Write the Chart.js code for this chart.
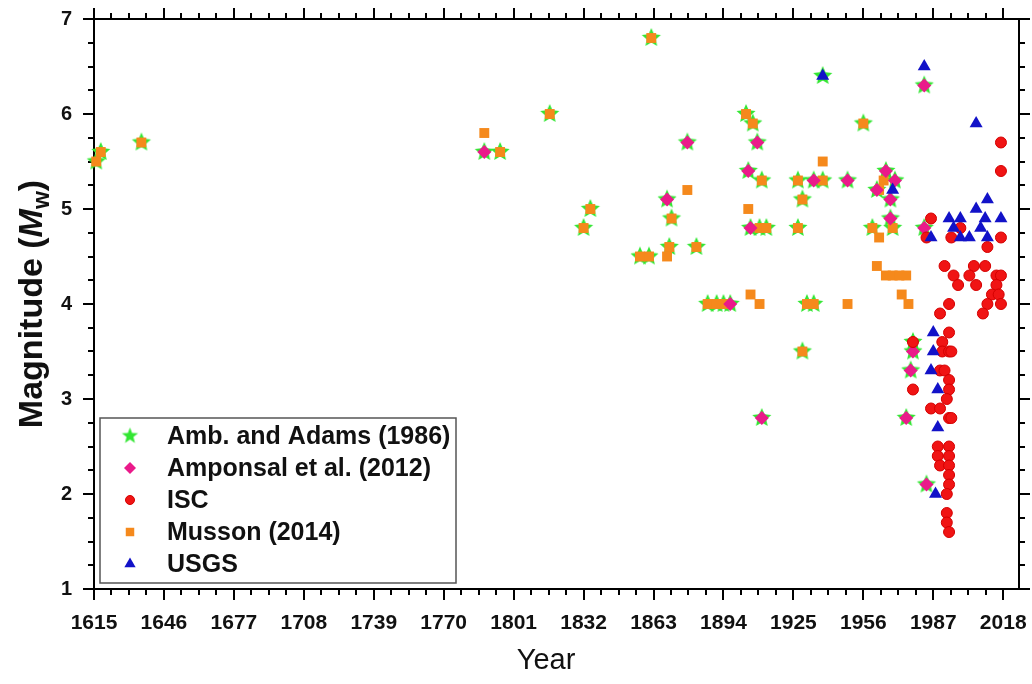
<!DOCTYPE html>
<html>
<head>
<meta charset="utf-8">
<script src="https://cdn.jsdelivr.net/npm/chart.js@4.4.1/dist/chart.umd.min.js"></script>
<style>
  html, body { margin: 0; padding: 0; background: #fff; }
  #wrap { width: 1032px; height: 684px; position: relative; }
</style>
</head>
<body>
<div id="wrap"><canvas id="place__graph1"></canvas></div>
<script>
// tick labels
const yearTicks = [1615, 1646, 1677, 1708, 1739, 1770, 1801, 1832, 1863, 1894, 1925, 1956, 1987, 2018];
const magTicks = [1, 2, 3, 4, 5, 6, 7];

// [year, Mw] per catalogue
const ambAdams = [
  [1616, 5.5], [1618, 5.6], [1636, 5.7], [1795, 5.6], [1817, 6.0], [1862, 6.8], [1832, 4.8], [1835, 5.0],
  [1857, 4.5], [1861, 4.5], [1870, 4.6], [1882, 4.6], [1871, 4.9], [1887, 4.0], [1891, 4.0], [1894, 4.0],
  [1931, 4.0], [1934, 4.0], [1910, 4.8], [1913, 4.8], [1927, 4.8], [1960, 4.8], [1969, 4.8], [1929, 5.1],
  [1904, 6.0], [1907, 5.9], [1956, 5.9], [1911, 5.3], [1927, 5.3], [1938, 5.3], [1929, 3.5],
  [1788, 5.6], [1869, 5.1], [1878, 5.7], [1897, 4.0], [1906, 4.8], [1983, 4.8], [1968, 5.1], [1968, 4.9],
  [1909, 5.7], [1905, 5.4], [1934, 5.3], [1949, 5.3], [1966, 5.4], [1962, 5.2], [1970, 5.3], [1983, 6.3],
  [1911, 2.8], [1975, 2.8], [1978, 3.5], [1977, 3.3], [1984, 2.1], [1938, 6.4], [1978, 3.6]
];
const amponsal = [
  [1788, 5.6], [1869, 5.1], [1878, 5.7], [1897, 4.0], [1906, 4.8], [1983, 4.8], [1968, 5.1], [1968, 4.9],
  [1909, 5.7], [1905, 5.4], [1934, 5.3], [1949, 5.3], [1966, 5.4], [1962, 5.2], [1970, 5.3], [1983, 6.3],
  [1911, 2.8], [1975, 2.8], [1978, 3.5], [1977, 3.3], [1984, 2.1]
];
const isc = [
  [2017, 5.7], [2017, 5.4], [1986, 4.9], [1984, 4.7], [1995, 4.7], [1999, 4.8], [2017, 4.7], [2011, 4.6],
  [1992, 4.4], [2005, 4.4], [2010, 4.4], [1996, 4.3], [2003, 4.3], [2015, 4.3], [2017, 4.3], [1998, 4.2],
  [2006, 4.2], [2015, 4.2], [2013, 4.1], [2016, 4.1], [1994, 4.0], [2011, 4.0], [2017, 4.0], [1990, 3.9],
  [2009, 3.9], [1994, 3.7], [1978, 3.6], [1991, 3.6], [1991, 3.5], [1994, 3.5], [1995, 3.5], [1990, 3.3],
  [1992, 3.3], [1994, 3.2], [1994, 3.1], [1978, 3.1], [1993, 3.0], [1986, 2.9], [1990, 2.9], [1994, 2.8],
  [1995, 2.8], [1989, 2.5], [1994, 2.5], [1989, 2.4], [1994, 2.4], [1990, 2.3], [1994, 2.3], [1994, 2.2],
  [1994, 2.1], [1993, 2.0], [1993, 1.8], [1993, 1.7], [1994, 1.6]
];
const musson = [
  [1616, 5.5], [1618, 5.6], [1636, 5.7], [1795, 5.6], [1817, 6.0], [1862, 6.8], [1832, 4.8], [1835, 5.0],
  [1857, 4.5], [1861, 4.5], [1870, 4.6], [1882, 4.6], [1871, 4.9], [1887, 4.0], [1891, 4.0], [1894, 4.0],
  [1931, 4.0], [1934, 4.0], [1910, 4.8], [1913, 4.8], [1927, 4.8], [1960, 4.8], [1969, 4.8], [1929, 5.1],
  [1904, 6.0], [1907, 5.9], [1956, 5.9], [1911, 5.3], [1927, 5.3], [1938, 5.3], [1929, 3.5],
  [1788, 5.8], [1878, 5.2], [1869, 4.5], [1905, 5.0], [1906, 4.1], [1910, 4.0], [1938, 5.5], [1949, 4.0],
  [1963, 4.7], [1962, 4.4], [1966, 4.3], [1969, 4.3], [1972, 4.3], [1975, 4.3], [1973, 4.1], [1976, 4.0],
  [1963, 5.2], [1965, 5.3]
];
const usgs = [
  [1938, 6.4], [1983, 6.5], [2006, 5.9], [1969, 5.2], [2011, 5.1], [2006, 5.0], [1994, 4.9], [1999, 4.9],
  [2010, 4.9], [2017, 4.9], [1996, 4.8], [2008, 4.8], [1986, 4.7], [1999, 4.7], [2003, 4.7], [2011, 4.7],
  [1987, 3.7], [1987, 3.5], [1986, 3.3], [1989, 3.1], [1989, 2.7], [1988, 2.0]
];

const FONT = "'Liberation Sans', Arial, sans-serif";

function makeStar(color, rOut, rIn) {
  const size = Math.ceil(rOut * 2 + 2);
  const c = document.createElement('canvas');
  c.width = size; c.height = size;
  const g = c.getContext('2d');
  g.beginPath();
  for (let i = 0; i < 10; i++) {
    const r = i % 2 ? rIn : rOut;
    const a = -Math.PI / 2 + i * Math.PI / 5;
    const px = size / 2 + r * Math.cos(a), py = size / 2 + r * Math.sin(a);
    if (i) g.lineTo(px, py); else g.moveTo(px, py);
  }
  g.closePath();
  g.fillStyle = color;
  g.fill();
  return c;
}
const starImg = makeStar('#33e633', 10, 4.6);
const starLegend = makeStar('#33e633', 8.5, 3.6);

const toXY = arr => arr.map(p => ({ x: p[0], y: p[1] }));

function createCtx(canva) {
  return document.getElementById(`place__graph${canva}`).getContext('2d');
}

const framePlugin = {
  id: 'frame',
  beforeDatasetsDraw(chart) {
    const { ctx, chartArea: a } = chart;
    const x = chart.scales.x, y = chart.scales.y;
    ctx.save();
    ctx.strokeStyle = '#000';
    ctx.lineWidth = 2;
    ctx.beginPath();
    yearTicks.forEach(v => {
      for (let k = 0; k < 4; k++) {
        const val = v + k * 31 / 4;
        if (val > x.max) break;
        const px = Math.round(x.getPixelForValue(val));
        const len = k === 0 ? 11 : 6;
        ctx.moveTo(px, a.bottom); ctx.lineTo(px, a.bottom + len);
        ctx.moveTo(px, a.top); ctx.lineTo(px, a.top - len);
      }
    });
    magTicks.forEach(v => {
      for (let k = 0; k < 4; k++) {
        const val = v + k / 4;
        if (val > y.max) break;
        const py = Math.round(y.getPixelForValue(val));
        const len = k === 0 ? 11 : 6;
        ctx.moveTo(a.left, py); ctx.lineTo(a.left - len, py);
        ctx.moveTo(a.right, py); ctx.lineTo(a.right + len, py);
      }
    });
    ctx.stroke();
    ctx.strokeRect(a.left, a.top, a.right - a.left, a.bottom - a.top);
    ctx.restore();
  },
  afterDraw(chart) {
    const { ctx, chartArea: a } = chart;
    ctx.save();
    // legend
    const lx = 100, ly = 418, lw = 356, lh = 165;
    ctx.fillStyle = '#fff';
    ctx.fillRect(lx, ly, lw, lh);
    ctx.strokeStyle = '#555';
    ctx.lineWidth = 1.5;
    ctx.strokeRect(lx, ly, lw, lh);
    const rows = [436, 468, 500, 532, 564];
    chart.data.datasets.forEach((ds, i) => {
      ctx.fillStyle = ds.backgroundColor;
      ctx.strokeStyle = ds.borderColor;
      ctx.lineWidth = ds.borderWidth || 0;
      const style = i === 0 ? starLegend : ds.pointStyle;
      Chart.helpers.drawPoint(ctx, { pointStyle: style, radius: ds.pointRadius - 1, rotation: 0, borderWidth: ds.borderWidth || 0 }, 130, rows[i]);
      ctx.fillStyle = '#111';
      ctx.font = `bold 25px ${FONT}`;
      ctx.textAlign = 'left';
      ctx.textBaseline = 'middle';
      ctx.fillText(ds.label, 167, rows[i] + 1);
    });
    // x title
    ctx.fillStyle = '#111';
    ctx.font = `29px ${FONT}`;
    ctx.textAlign = 'center';
    ctx.textBaseline = 'middle';
    ctx.fillText('Year', 546, 661);
    // y title with italic M and subscript w
    ctx.translate(42, (a.top + a.bottom) / 2);
    ctx.rotate(-Math.PI / 2);
    ctx.textAlign = 'left';
    ctx.textBaseline = 'alphabetic';
    const parts = [
      { t: 'Magnitude (', f: `bold 34px ${FONT}`, dy: 0 },
      { t: 'M', f: `italic bold 34px ${FONT}`, dy: 0 },
      { t: 'w', f: `bold 23px ${FONT}`, dy: 7 },
      { t: ')', f: `bold 34px ${FONT}`, dy: 0 }
    ];
    let total = 0;
    parts.forEach(p => { ctx.font = p.f; p.w = ctx.measureText(p.t).width; total += p.w; });
    let cx = -total / 2;
    parts.forEach(p => { ctx.font = p.f; ctx.fillText(p.t, cx, p.dy); cx += p.w; });
    ctx.restore();
  }
};

const ctx = createCtx(1);
const chart = new Chart(ctx, {
  type: 'scatter',
  data: {
    datasets: [
      { label: 'Amb. and Adams (1986)', data: toXY(ambAdams), pointStyle: starImg, pointRadius: 10,
        backgroundColor: '#33e633', borderColor: '#33e633', borderWidth: 0, order: 5, clip: false },
      { label: 'Amponsal et al. (2012)', data: toXY(amponsal), pointStyle: 'rectRot', pointRadius: 7,
        backgroundColor: '#ea1a8a', borderColor: '#ea1a8a', borderWidth: 0, order: 3, clip: false },
      { label: 'ISC', data: toXY(isc), pointStyle: 'circle', pointRadius: 5.5,
        backgroundColor: '#f01414', borderColor: '#d40000', borderWidth: 1, order: 2, clip: false },
      { label: 'Musson (2014)', data: toXY(musson), pointStyle: 'rect', pointRadius: 7,
        backgroundColor: '#f5891c', borderColor: '#f5891c', borderWidth: 0, order: 4, clip: false },
      { label: 'USGS', data: toXY(usgs), pointStyle: 'triangle', pointRadius: 7.5,
        backgroundColor: '#1212c8', borderColor: '#1212c8', borderWidth: 0, order: 1, clip: false }
    ]
  },
  options: {
    responsive: true,
    maintainAspectRatio: false,
    animation: false,
    layout: { padding: { top: 19, right: 13, left: 0, bottom: 0 } },
    plugins: { legend: { display: false }, tooltip: { enabled: false } },
    scales: {
      x: {
        type: 'linear', min: 1615, max: 2025,
        afterBuildTicks: s => { s.ticks = yearTicks.map(v => ({ value: v })); },
        afterFit: s => { s.height = 95; s.paddingLeft = 0; s.paddingRight = 0; },
        grid: { display: false, drawTicks: false },
        border: { display: false },
        ticks: { color: '#111', font: { family: FONT, size: 21, weight: 'bold' }, padding: 22, maxRotation: 0, autoSkip: false,
                 callback: v => String(v) }
      },
      y: {
        type: 'linear', min: 1, max: 7,
        afterBuildTicks: s => { s.ticks = magTicks.map(v => ({ value: v })); },
        afterFit: s => { s.width = 94; s.paddingTop = 0; s.paddingBottom = 0; },
        grid: { display: false, drawTicks: false },
        border: { display: false },
        ticks: { color: '#111', font: { family: FONT, size: 20, weight: 'bold' }, padding: 22 }
      }
    }
  },
  plugins: [framePlugin]
});
</script>
</body>
</html>
